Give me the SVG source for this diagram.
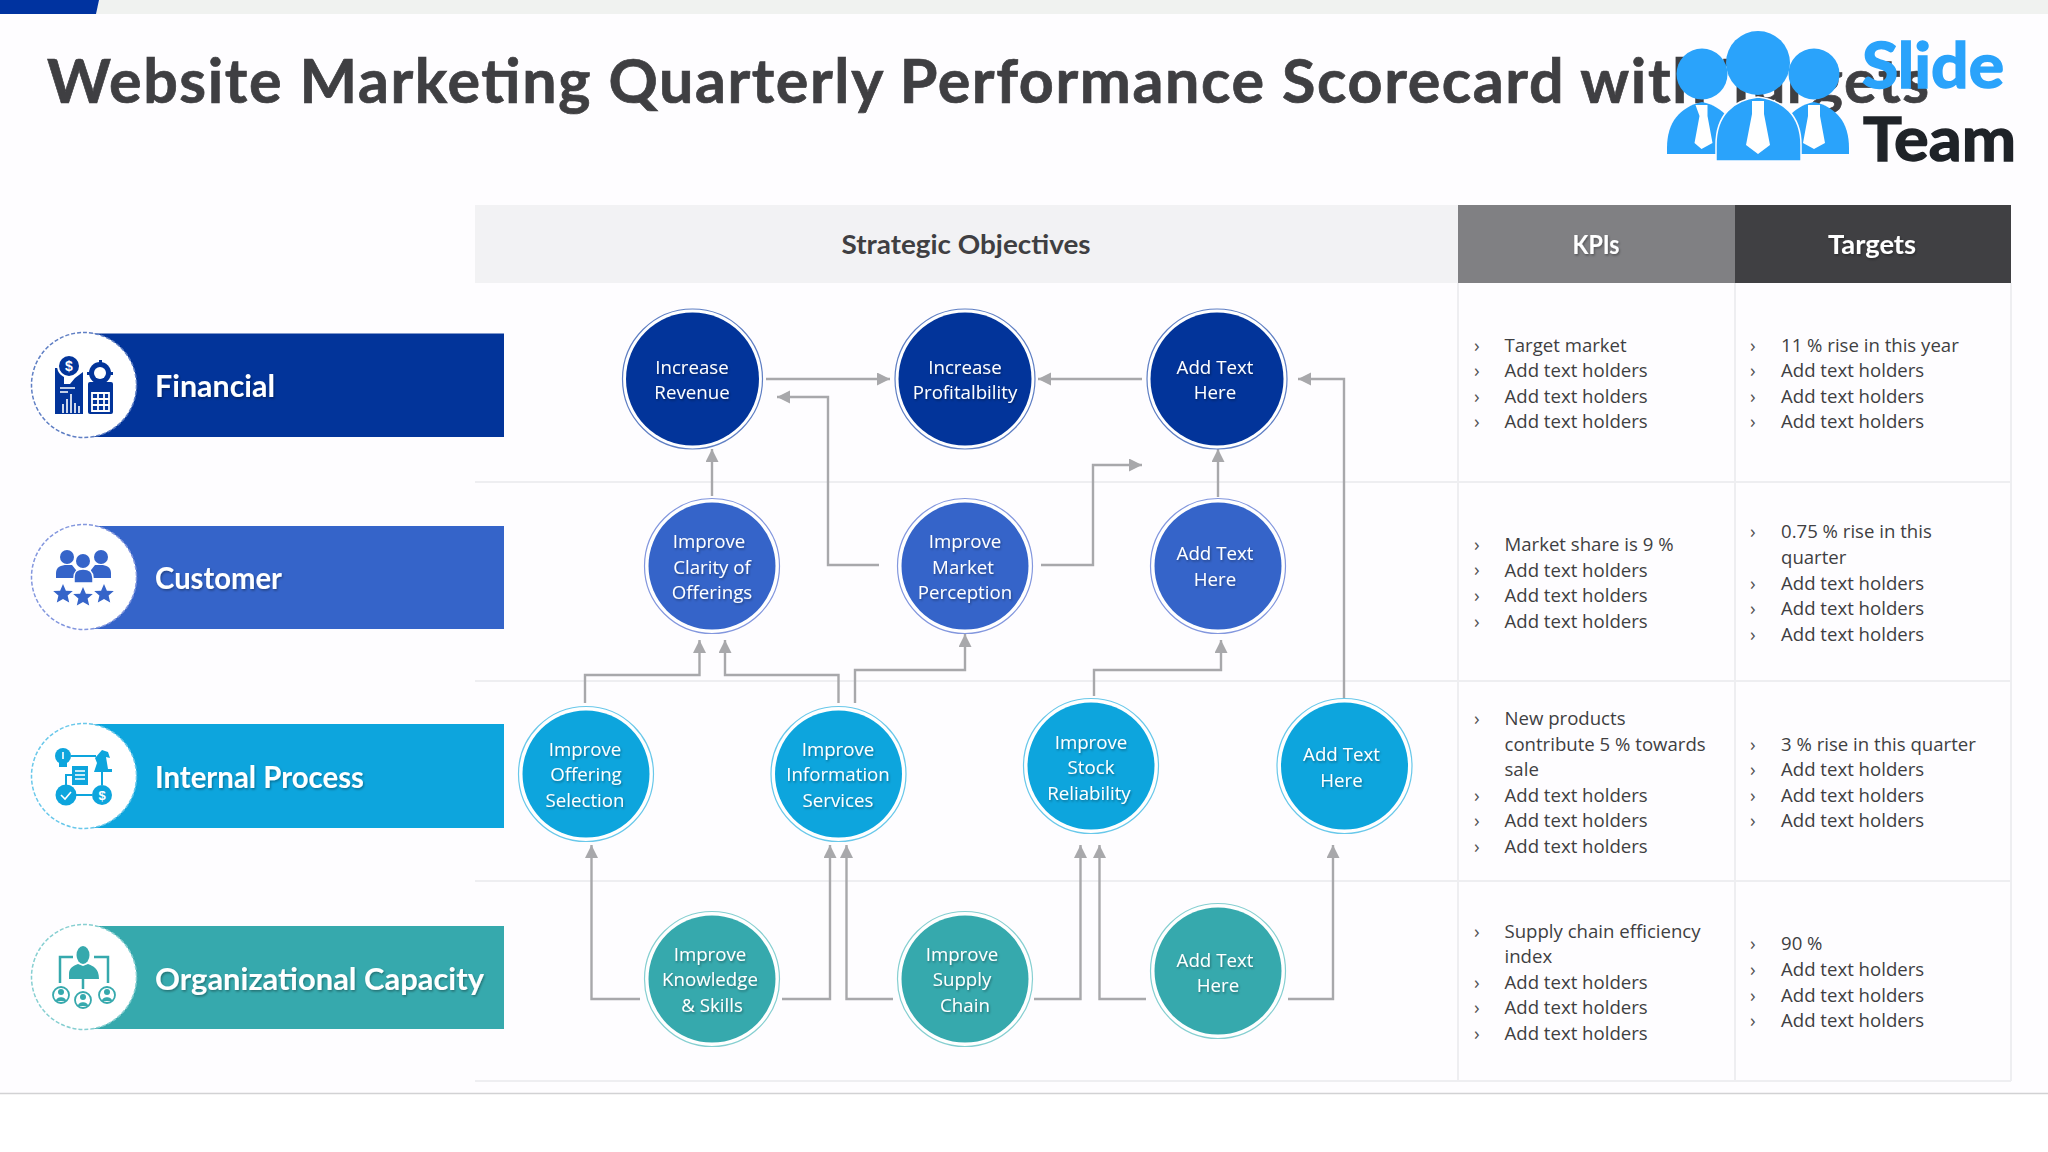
<svg xmlns="http://www.w3.org/2000/svg" width="2048" height="1152" viewBox="0 0 2048 1152">
<style>
.ttl{font-family:"Lato","Liberation Sans",sans-serif;font-weight:700;font-size:61px;fill:#3f3f42;stroke:#3f3f42;stroke-width:.7}
.hd{font-family:"Lato","Liberation Sans",sans-serif;font-weight:700;font-size:26px;text-anchor:middle}
.band{font-family:"Lato","Liberation Sans",sans-serif;font-weight:700;font-size:31px;fill:#fff}
.n{font-family:"Open Sans","Noto Sans",sans-serif;font-size:18.7px;fill:#fff;text-anchor:middle}
.b{font-family:"Open Sans","Noto Sans",sans-serif;font-size:18.6px;fill:#3f3f42}
.m{font-family:"Open Sans","Noto Sans",sans-serif;font-size:19px;fill:#555}
.g{stroke:#eeeef1;stroke-width:2;fill:none}
.c{fill:none;stroke:#a8a8ab;stroke-width:2.4;marker-end:url(#ah)}
.ring{fill:#fff;stroke-width:1.2}
.dash{fill:#fff;stroke-width:1.5;stroke-dasharray:4 2}
.f1{fill:#02349a}.f2{fill:#3564c9}.f3{fill:#0da5dd}.f4{fill:#36a9ad}
.s1{stroke:#5f7fc4}.s2{stroke:#8397de}.s3{stroke:#69c8ea}.s4{stroke:#86cfd1}
.w{fill:#fff}
.wl{stroke:#fff;fill:none}
</style>
<defs>
<marker id="ah" markerUnits="userSpaceOnUse" markerWidth="14" markerHeight="14" refX="13" refY="6.5" orient="auto"><path d="M0,0L13,6.5L0,13z" fill="#a8a8ab"/></marker>
<filter id="sh" x="-10%" y="-20%" width="125%" height="150%"><feDropShadow dx="1" dy="1.5" stdDeviation="1" flood-color="#000" flood-opacity=".35"/></filter>
<path id="star" d="M0,-10L2.9,-3.2L9.8,-3.1L4.6,1.6L6.2,8.6L0,5L-6.2,8.6L-4.6,1.6L-9.8,-3.1L-2.9,-3.2z"/>
</defs>
<rect width="2048" height="1152" fill="#fff"/>
<rect width="2048" height="1093" fill="#fefdff"/>
<rect width="2048" height="14" fill="#f0f2f0"/>
<path d="M0,0H99L96,14H0z" fill="#0033a0"/>
<path d="M0,1093.5H2048" stroke="#d2d2d4" stroke-width="1.5"/>

<text class="ttl" x="47" y="103" textLength="1882" lengthAdjust="spacing">Website Marketing Quarterly Performance Scorecard with Targets</text>

<g id="logo">
<g fill="#2aa3fb">
<circle cx="1702" cy="74" r="25.5"/><circle cx="1758" cy="63" r="32"/><circle cx="1814" cy="74" r="25.5"/>
<path d="M1667,154V148C1667,122 1680,107 1702,102C1724,107 1737,122 1737,148V154z"/>
<path d="M1779,154V148C1779,122 1792,107 1814,102C1836,107 1849,122 1849,148V154z"/>
<path d="M1716,161V145C1716,115 1733,100 1758,97C1783,100 1801,115 1801,145V161z" stroke="#fefdff" stroke-width="1.5"/>
</g>
<g class="w">
<path d="M1696,105H1708V116L1713,143L1702,149L1695,143L1700,116z" transform="translate(-.5,0)"/>
<path d="M1752,101H1764V114L1770,145L1758,154L1746,145L1752,114z"/>
<path d="M1808,105H1820V116L1825,143L1814,149L1803,143L1808,116z"/>
</g>
<text x="1862" y="88" textLength="142" lengthAdjust="spacingAndGlyphs" font-family="Lato,'Liberation Sans',sans-serif" font-weight="700" font-size="63" fill="#2aa3fb" stroke="#2aa3fb" stroke-width="1.6">Slide</text>
<text x="1863" y="161" textLength="153" lengthAdjust="spacingAndGlyphs" font-family="Lato,'Liberation Sans',sans-serif" font-weight="700" font-size="61" fill="#1f2328" stroke="#1f2328" stroke-width="1.4">Team</text>
</g>

<g id="table">
<rect x="475" y="205" width="983" height="78" fill="#f2f2f4"/>
<rect x="1458" y="205" width="277" height="78" fill="#808083"/>
<rect x="1735" y="205" width="276" height="78" fill="#404043"/>
<path class="g" d="M475,482H2011M475,681H2011M475,881H2011M475,1081H2011M1458,283V1081M1735,283V1081M2011,283V1081"/>
<text class="hd" x="966" y="254" fill="#3f3f42" textLength="249" lengthAdjust="spacingAndGlyphs">Strategic Objectives</text>
<text class="hd" x="1596" y="254" fill="#fff" filter="url(#sh)" textLength="47" lengthAdjust="spacingAndGlyphs">KPIs</text>
<text class="hd" x="1872" y="254" fill="#fff" filter="url(#sh)" textLength="88" lengthAdjust="spacingAndGlyphs">Targets</text>
</g>

<g id="band-financial">
<rect class="f1" x="90" y="333.500" width="414" height="103.500"/>
<circle class="dash s1" cx="84" cy="385" r="52.500"/>
<g class="f1">
<path d="M55,368H59V372H64V384L70,384L75,378L83,372V414H55z"/>
<circle cx="69" cy="366" r="12" fill="#fff"/><circle cx="69" cy="366" r="10"/>
<rect x="88" y="382" width="25" height="32" rx="2"/>
<circle cx="100" cy="373" r="11"/><circle cx="100" cy="373" r="6" fill="#fff"/>
<path d="M99,360h3v3h-3zM99,383h3v3h-3zM87,372h3v3h-3zM110,372h3v3h-3z"/>
</g>
<text x="69" y="371" text-anchor="middle" font-family="Liberation Sans,sans-serif" font-weight="700" font-size="14" fill="#fff">$</text>
<path class="wl" stroke-width="1.6" d="M60,388H75M60,392H68M63,413V404M67,413V399M71,413V394M75,413V403M79,413V406"/>
<path class="wl" stroke-width="1.8" d="M92,393H109V411H92zM92,399H109M92,405H109M98,393V411M104,393V411"/>
<text class="band" x="155" y="397" textLength="120" lengthAdjust="spacingAndGlyphs" filter="url(#sh)">Financial</text>
</g>

<g id="band-customer">
<rect class="f2" x="90" y="526" width="414" height="103"/>
<circle class="dash s2" cx="84" cy="577" r="52.500"/>
<g class="f2">
<circle cx="67" cy="557" r="7"/><circle cx="101" cy="557" r="7"/>
<path d="M56,578V573C56,567 61,565 67,565H72L76,570V578z"/>
<path d="M111,578V573C111,567 106,565 101,565H95L91,570V578z"/>
<circle cx="83" cy="561" r="7"/>
<path d="M74,583V578C74,571 77,569 83,569C89,569 93,571 93,578V583z" stroke="#fff" stroke-width="1.5"/>
<use href="#star" x="63" y="594"/><use href="#star" x="83" y="597"/><use href="#star" x="104" y="594"/>
</g>
<text class="band" x="155" y="589" textLength="127" lengthAdjust="spacingAndGlyphs" filter="url(#sh)">Customer</text>
</g>

<g id="band-internal">
<rect class="f3" x="90" y="724" width="414" height="104"/>
<circle class="dash s3" cx="84" cy="776" r="52.500"/>
<path d="M71,756H96M102,772V785M76,795H92M66,785V775H72" stroke="#0da5dd" stroke-width="2" fill="none"/>
<g class="f3">
<circle cx="63" cy="756" r="8"/><rect x="59" y="763" width="8" height="4"/>
<circle cx="66" cy="795" r="10.500"/><circle cx="102" cy="795" r="10"/>
<rect x="72" y="766" width="16" height="19"/>
<path d="M94,772L97,763L95,758L102,750L108,752L110,758L106,757L108,769H112V772z"/>
</g>
<path class="wl" stroke-width="1.6" d="M75,771H85M75,775H85M75,779H85M63,752V759M61,795L65,799L71,792"/>
<text x="102" y="800" text-anchor="middle" font-family="Liberation Sans,sans-serif" font-weight="700" font-size="13" fill="#fff">$</text>
<text class="band" x="155" y="788" textLength="209" lengthAdjust="spacingAndGlyphs" filter="url(#sh)">Internal Process</text>
</g>

<g id="band-org">
<rect class="f4" x="90" y="926" width="414" height="103"/>
<circle class="dash s4" cx="84" cy="977" r="52.500"/>
<path d="M73,957H60V983M94,957H108V983M83,979V989" stroke="#36a9ad" stroke-width="2.500" fill="none"/>
<g class="f4">
<ellipse cx="83" cy="955" rx="6.500" ry="9"/>
<path d="M69,979V974C69,968 73,966 78,964L83,966L88,964C93,966 99,968 99,979z"/>
</g>
<g fill="#fff" stroke="#36a9ad" stroke-width="1.800"><circle cx="61" cy="995" r="8"/><circle cx="83" cy="1000" r="8"/><circle cx="107" cy="995" r="8"/></g>
<g class="f4"><circle cx="61" cy="992" r="3"/><path d="M56,1001C56,996 66,996 66,1001z"/><circle cx="83" cy="997" r="3"/><path d="M78,1006C78,1001 88,1001 88,1006z"/><circle cx="107" cy="992" r="3"/><path d="M102,1001C102,996 112,996 112,1001z"/></g>
<text class="band" x="155" y="990" textLength="329" lengthAdjust="spacingAndGlyphs" filter="url(#sh)">Organizational Capacity</text>
</g>

<g id="connectors">
<path class="c" d="M766,379H890"/>
<path class="c" d="M879,565H828V397H777"/>
<path class="c" d="M1142,379H1038"/>
<path class="c" d="M1344,698V379H1298"/>
<path class="c" d="M712,496V449"/>
<path class="c" d="M1218,497V449"/>
<path class="c" d="M1041,565H1093V465H1142"/>
<path class="c" d="M585,703V675H699.500V640"/>
<path class="c" d="M838.500,703V675H725V640"/>
<path class="c" d="M855,703V670H965V634"/>
<path class="c" d="M1094,696V670H1221V640"/>
<path class="c" d="M640,999H591.500V845"/>
<path class="c" d="M782,999H830V845"/>
<path class="c" d="M893,999H846.500V845"/>
<path class="c" d="M1034,999H1080.500V845"/>
<path class="c" d="M1146,999H1099.500V845"/>
<path class="c" d="M1288,999H1333V845"/>
</g>

<g id="n-increase-revenue"><circle class="ring s1" cx="692.500" cy="379" r="70"/><circle class="f1" cx="692.500" cy="379" r="66.500"/><text class="n" x="692" y="374" filter="url(#sh)">Increase</text><text class="n" x="692" y="399" filter="url(#sh)">Revenue</text></g>
<g id="n-increase-profit"><circle class="ring s1" cx="965" cy="379" r="70"/><circle class="f1" cx="965" cy="379" r="66.500"/><text class="n" x="965" y="374" filter="url(#sh)">Increase</text><text class="n" x="965" y="399" filter="url(#sh)">Profitalbility</text></g>
<g id="n-add-1"><circle class="ring s1" cx="1217" cy="379" r="70"/><circle class="f1" cx="1217" cy="379" r="66.500"/><text class="n" x="1215" y="374" filter="url(#sh)">Add Text</text><text class="n" x="1215" y="399" filter="url(#sh)">Here</text></g>

<g id="n-clarity"><circle class="ring s2" cx="712" cy="566" r="67.500"/><circle class="f2" cx="712" cy="566" r="63.500"/><text class="n" x="709" y="548" filter="url(#sh)">Improve</text><text class="n" x="712" y="574" filter="url(#sh)">Clarity of</text><text class="n" x="712" y="599" filter="url(#sh)">Offerings</text></g>
<g id="n-market"><circle class="ring s2" cx="965" cy="566" r="67.500"/><circle class="f2" cx="965" cy="566" r="63.500"/><text class="n" x="965" y="548" filter="url(#sh)">Improve</text><text class="n" x="963" y="574" filter="url(#sh)">Market</text><text class="n" x="965" y="599" filter="url(#sh)">Perception</text></g>
<g id="n-add-2"><circle class="ring s2" cx="1218" cy="566" r="67.500"/><circle class="f2" cx="1218" cy="566" r="63.500"/><text class="n" x="1215" y="560" filter="url(#sh)">Add Text</text><text class="n" x="1215" y="586" filter="url(#sh)">Here</text></g>

<g id="n-offering"><circle class="ring s3" cx="586" cy="774" r="67.500"/><circle class="f3" cx="586" cy="774" r="63.500"/><text class="n" x="585" y="756" filter="url(#sh)">Improve</text><text class="n" x="586" y="781" filter="url(#sh)">Offering</text><text class="n" x="585" y="807" filter="url(#sh)">Selection</text></g>
<g id="n-info"><circle class="ring s3" cx="838.500" cy="774" r="67.500"/><circle class="f3" cx="838.500" cy="774" r="63.500"/><text class="n" x="838" y="756" filter="url(#sh)">Improve</text><text class="n" x="838" y="781" filter="url(#sh)">Information</text><text class="n" x="838" y="807" filter="url(#sh)">Services</text></g>
<g id="n-stock"><circle class="ring s3" cx="1091" cy="766" r="67.500"/><circle class="f3" cx="1091" cy="766" r="63.500"/><text class="n" x="1091" y="749" filter="url(#sh)">Improve</text><text class="n" x="1091" y="774" filter="url(#sh)">Stock</text><text class="n" x="1089" y="800" filter="url(#sh)">Reliability</text></g>
<g id="n-add-3"><circle class="ring s3" cx="1344.500" cy="766" r="67.500"/><circle class="f3" cx="1344.500" cy="766" r="63.500"/><text class="n" x="1341.500" y="761" filter="url(#sh)">Add Text</text><text class="n" x="1341.500" y="787" filter="url(#sh)">Here</text></g>

<g id="n-knowledge"><circle class="ring s4" cx="712" cy="979" r="67.500"/><circle class="f4" cx="712" cy="979" r="63.500"/><text class="n" x="710" y="961" filter="url(#sh)">Improve</text><text class="n" x="710" y="986" filter="url(#sh)">Knowledge</text><text class="n" x="712" y="1012" filter="url(#sh)">&amp; Skills</text></g>
<g id="n-supply"><circle class="ring s4" cx="965" cy="979" r="67.500"/><circle class="f4" cx="965" cy="979" r="63.500"/><text class="n" x="962" y="961" filter="url(#sh)">Improve</text><text class="n" x="962" y="986" filter="url(#sh)">Supply</text><text class="n" x="965" y="1012" filter="url(#sh)">Chain</text></g>
<g id="n-add-4"><circle class="ring s4" cx="1218" cy="971" r="67.500"/><circle class="f4" cx="1218" cy="971" r="63.500"/><text class="n" x="1215" y="967" filter="url(#sh)">Add Text</text><text class="n" x="1218" y="992" filter="url(#sh)">Here</text></g>

<g id="kpis">
<text class="m" x="1474" y="352">›</text><text class="b" x="1504.500" y="351.500">Target market</text>
<text class="m" x="1474" y="377">›</text><text class="b" x="1504.500" y="377">Add text holders</text>
<text class="m" x="1474" y="403">›</text><text class="b" x="1504.500" y="402.500">Add text holders</text>
<text class="m" x="1474" y="428">›</text><text class="b" x="1504.500" y="428">Add text holders</text>
<text class="m" x="1474" y="551">›</text><text class="b" x="1504.500" y="551">Market share is 9 %</text>
<text class="m" x="1474" y="576">›</text><text class="b" x="1504.500" y="576.500">Add text holders</text>
<text class="m" x="1474" y="602">›</text><text class="b" x="1504.500" y="602">Add text holders</text>
<text class="m" x="1474" y="628">›</text><text class="b" x="1504.500" y="627.500">Add text holders</text>
<text class="m" x="1474" y="725">›</text><text class="b" x="1504.500" y="725">New products</text>
<text class="b" x="1504.500" y="750.500">contribute 5 % towards</text>
<text class="b" x="1504.500" y="776">sale</text>
<text class="m" x="1474" y="802">›</text><text class="b" x="1504.500" y="801.500">Add text holders</text>
<text class="m" x="1474" y="827">›</text><text class="b" x="1504.500" y="827">Add text holders</text>
<text class="m" x="1474" y="853">›</text><text class="b" x="1504.500" y="852.500">Add text holders</text>
<text class="m" x="1474" y="938">›</text><text class="b" x="1504.500" y="938">Supply chain efficiency</text>
<text class="b" x="1504.500" y="963">index</text>
<text class="m" x="1474" y="989">›</text><text class="b" x="1504.500" y="989">Add text holders</text>
<text class="m" x="1474" y="1014">›</text><text class="b" x="1504.500" y="1014">Add text holders</text>
<text class="m" x="1474" y="1040">›</text><text class="b" x="1504.500" y="1040">Add text holders</text>
</g>
<g id="targets">
<text class="m" x="1750" y="352">›</text><text class="b" x="1781" y="351.500">11 % rise in this year</text>
<text class="m" x="1750" y="377">›</text><text class="b" x="1781" y="377">Add text holders</text>
<text class="m" x="1750" y="403">›</text><text class="b" x="1781" y="402.500">Add text holders</text>
<text class="m" x="1750" y="428">›</text><text class="b" x="1781" y="428">Add text holders</text>
<text class="m" x="1750" y="538">›</text><text class="b" x="1781" y="538">0.75 % rise in this</text>
<text class="b" x="1781" y="564">quarter</text>
<text class="m" x="1750" y="590">›</text><text class="b" x="1781" y="589.500">Add text holders</text>
<text class="m" x="1750" y="615">›</text><text class="b" x="1781" y="615">Add text holders</text>
<text class="m" x="1750" y="641">›</text><text class="b" x="1781" y="640.500">Add text holders</text>
<text class="m" x="1750" y="751">›</text><text class="b" x="1781" y="750.500">3 % rise in this quarter</text>
<text class="m" x="1750" y="776">›</text><text class="b" x="1781" y="776">Add text holders</text>
<text class="m" x="1750" y="802">›</text><text class="b" x="1781" y="801.500">Add text holders</text>
<text class="m" x="1750" y="827">›</text><text class="b" x="1781" y="827">Add text holders</text>
<text class="m" x="1750" y="950">›</text><text class="b" x="1781" y="950">90 %</text>
<text class="m" x="1750" y="976">›</text><text class="b" x="1781" y="976">Add text holders</text>
<text class="m" x="1750" y="1002">›</text><text class="b" x="1781" y="1001.500">Add text holders</text>
<text class="m" x="1750" y="1027">›</text><text class="b" x="1781" y="1027">Add text holders</text>
</g>
</svg>
